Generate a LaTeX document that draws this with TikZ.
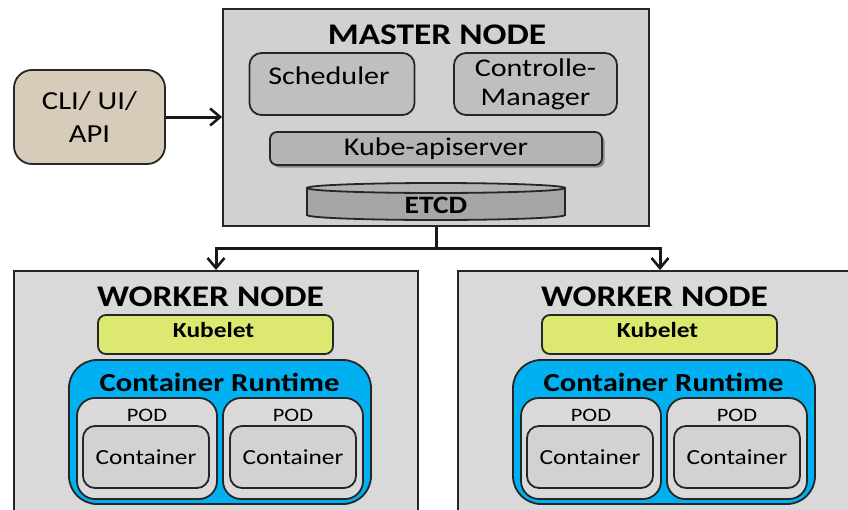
\documentclass[tikz,border=0pt]{standalone}
\usepackage{fontspec}
\setmainfont{Carlito}[FakeStretch=1.18]
\usetikzlibrary{arrows.meta,shadows}
\definecolor{masterfill}{RGB}{209,209,209}
\definecolor{workfill}{RGB}{217,217,217}
\definecolor{subgray}{RGB}{191,191,191}
\definecolor{apigray}{RGB}{180,180,180}
\definecolor{etcdgray}{RGB}{166,166,166}
\definecolor{clifill}{RGB}{215,204,186}
\definecolor{kubeletfill}{RGB}{221,232,112}
\definecolor{crblue}{RGB}{0,176,240}
\definecolor{podfill}{RGB}{218,218,218}
\definecolor{contfill}{RGB}{210,210,210}
\begin{document}
\begin{tikzpicture}[x=1pt,y=-1pt,
  panel/.style={draw=black!85, line width=1.8pt, inner sep=0pt},
  rbox/.style={draw=black!85, line width=1.8pt, inner sep=0pt},
  txt/.style={inner sep=0pt, font=\fontsize{25.5}{29}\selectfont},
  titletxt/.style={inner sep=0pt, font=\fontsize{30}{34}\selectfont\bfseries},
  conn/.style={draw=black!90, line width=3pt},
  arr/.style={conn, -{Straight Barb[length=10pt,width=17pt,line width=2.6pt]}}
]
\useasboundingbox (0,0) rectangle (848,509);
\clip (0,0) rectangle (848,509);

% CLI
\node[rbox, fill=clifill, minimum width=151pt, minimum height=94pt, rounded corners=18pt,
      align=center, font=\fontsize{26}{33}\selectfont] (cli) at (89.5,117) {CLI/ UI/\\API};

% Master
\node[panel, fill=masterfill, minimum width=426pt, minimum height=217pt] (master) at (436,117.5) {};
\node[titletxt] (mtitle) at (437,35) {MASTER NODE};
\node[rbox, fill=subgray, minimum width=165pt, minimum height=62pt, rounded corners=12pt] (sched) at (332,84) {};
\node[txt] (schedtxt) at (329,76) {Scheduler};
\node[rbox, fill=subgray, minimum width=163pt, minimum height=62pt, rounded corners=12pt,
      align=center, font=\fontsize{25.5}{29}\selectfont] (ctrl) at (535.5,84) {Controlle-\\Manager};
\node[rbox, fill=apigray, minimum width=332pt, minimum height=33pt, rounded corners=7pt,
      drop shadow={shadow xshift=2.5pt, shadow yshift=-2.5pt, opacity=0.35, fill=black},
      font=\fontsize{25.5}{29}\selectfont] (api) at (436,148.5) {Kube-apiserver};

% ETCD cylinder
\filldraw[draw=black!85, line width=1.8pt, fill=etcdgray]
  (307,188) -- (307,215) arc[start angle=180, end angle=360, x radius=129pt, y radius=5pt]
  -- (565,188) -- cycle;
\filldraw[draw=black!85, line width=1.8pt, fill=etcdgray!85!white]
  (436,188) ellipse[x radius=129pt, y radius=5pt];
\node[inner sep=0pt, font=\fontsize{25}{29}\selectfont\bfseries] (etcd) at (436,205) {ETCD};

% Workers
\foreach \dx/\p in {0/a,444/b}{
  \node[panel, fill=workfill, minimum width=404pt, minimum height=300pt, anchor=north] (\p-work) at (216+\dx,270) {};
  \node[titletxt] (\p-title) at (210.5+\dx,297) {WORKER NODE};
  \node[rbox, fill=kubeletfill, minimum width=235pt, minimum height=39pt, rounded corners=8pt] (\p-kubelet) at (215.5+\dx,334.5) {};
  \node[inner sep=0pt, font=\fontsize{21.5}{25}\selectfont\bfseries] (\p-kubelettxt) at (213.5+\dx,330) {Kubelet};
  \node[rbox, fill=crblue, minimum width=302pt, minimum height=144pt, rounded corners=28pt] (\p-cr) at (220+\dx,432) {};
  \node[inner sep=0pt, font=\fontsize{26}{30}\selectfont\bfseries] (\p-crtxt) at (219.5+\dx,382) {Container Runtime};
  \node[rbox, fill=podfill, minimum width=140pt, minimum height=101pt, rounded corners=18pt] (\p-pod1) at (147+\dx,448.5) {};
  \node[rbox, fill=podfill, minimum width=140pt, minimum height=101pt, rounded corners=18pt] (\p-pod2) at (293+\dx,448.5) {};
  \node[inner sep=0pt, font=\fontsize{19}{22}\selectfont] (\p-pod1txt) at (147+\dx,415) {POD};
  \node[inner sep=0pt, font=\fontsize{19}{22}\selectfont] (\p-pod2txt) at (293+\dx,415) {POD};
  \node[rbox, fill=contfill, minimum width=126pt, minimum height=62pt, rounded corners=12pt,
        font=\fontsize{21.5}{25}\selectfont] (\p-cont1) at (146+\dx,457) {Container};
  \node[rbox, fill=contfill, minimum width=126pt, minimum height=62pt, rounded corners=12pt,
        font=\fontsize{21.5}{25}\selectfont] (\p-cont2) at (293+\dx,457) {Container};
}

% Connectors
\draw[arr] (cli.east) -- (cli.east -| master.west);
\coordinate (split) at (436,248);
\draw[conn] (master.south) -- (split);
\draw[arr] (split) -| (a-work.north);
\draw[arr] (split) -| (b-work.north);
\end{tikzpicture}
\end{document}
